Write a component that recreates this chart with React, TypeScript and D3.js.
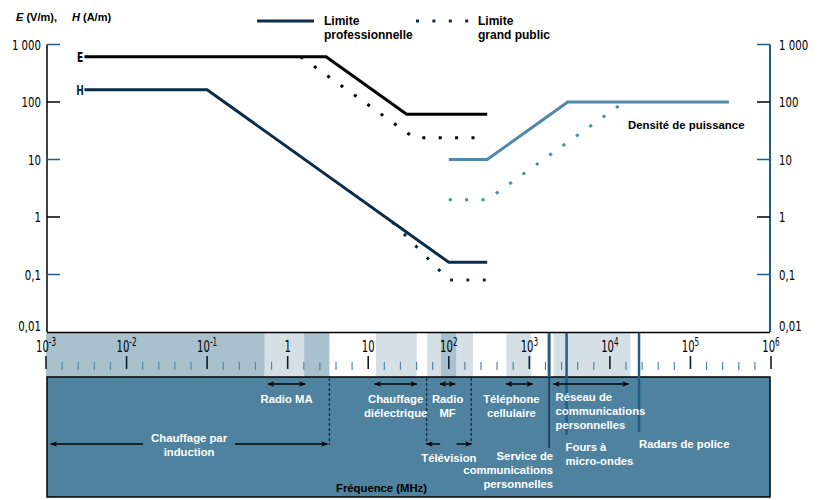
import * as d3 from "d3";

// frequencies in MHz
const eProF = [0.003, 3, 30, 300];
const eProV = [614, 614, 61.4, 61.4];
const ePubF = [1.45, 37, 300];
const ePubV = [614, 24, 24];
const hProF = [0.003, 0.1, 100, 300];
const hProV = [163, 163, 0.163, 0.163];
const hPubF = [20, 100, 300];
const hPubV = [0.815, 0.08, 0.08];
const sProF = [100, 300, 3000, 300000];
const sProV = [10, 10, 100, 100];
const sPubF = [100, 300, 15000];
const sPubV = [2, 2, 100];

const yTicks = [1000, 100, 10, 1, 0.1, 0.01];
const yTickLabels = ["1 000", "100", "10", "1", "0,1", "0,01"];
const xExps = [-3, -2, -1, 0, 1, 2, 3, 4, 5, 6];

// background bands in the frequency strip
const bandFrom = [0.001, 0.52, 1.6, 12.5, 54, 80, 125, 520, 2000];
const bandTo = [0.52, 1.6, 3.3, 40, 80, 125, 200, 1050, 18000];
const bandShade = ["mid", "light", "mid", "light", "light", "mid", "light", "light", "light"];

// single frequency markers (PCS, micro-ondes, radars)
const markF = [1760, 2900, 23000];

const bandArrows = [
  { name: "induction", from: 0.00115, to: 3.1 },
  { name: "ma", from: 0.57, to: 1.65 },
  { name: "diel", from: 12, to: 40 },
  { name: "mf", from: 78, to: 120 },
  { name: "cell", from: 515, to: 1100 },
  { name: "pcs", from: 2000, to: 17000 },
];
const tvRange = [53, 190];
const tvInner = [78, 125];
const inductionEnd = 3.3;

const FONT_B = "'Liberation Sans', Arial, Helvetica, sans-serif";
const FONT_N = "'DejaVu Sans Condensed', 'Liberation Sans Narrow', 'Arial Narrow', sans-serif";

const BLACK = "#000";
const NAVY = "#0b2d4a";
const BLUE = "#5088a6";
const DARKBLUE = "#1f5f85";
const PANEL = "#4e829f";
const LIGHT = "#d4e0e6";
const MID = "#a9c1cd";

// squeezed condensed text, like the original's narrow face
function NText(props: { x: number; y: number; anchor?: string; size?: number; sx?: number; fill?: string; bold?: boolean; children: any }) {
  const { x, y, anchor = "start", size = 14.5, sx = 0.78, fill = "#000", bold = false, children } = props;
  return (
    <text transform={`translate(${x},${y}) scale(${sx},1)`} textAnchor={anchor as any} fontFamily={FONT_N}
      fontSize={size} fill={fill} fontWeight={bold ? "bold" : "normal"}>
      {children}
    </text>
  );
}

export default function App() {
  const x = d3.scaleLog().domain([1e-3, 1e6]).range([46, 771]);
  const y = d3.scaleLog().domain([0.01, 1000]).range([332, 44.5]);
  const path = (fs: number[], vs: number[]) =>
    d3.line()(fs.map((f, i) => [x(f), y(vs[i])] as [number, number])) || "";

  const minor: number[] = [];
  for (let k = -3; k < 6; k++) for (let i = 1; i < 5; i++) minor.push(Math.pow(10, k + i / 5));

  const dots = "3 13.4";
  const arrow = (a: { from: number; to: number }, yy: number, key: string) => (
    <line key={key} x1={x(a.from)} x2={x(a.to)} y1={yy} y2={yy} stroke="#000" strokeWidth={1.4}
      markerStart="url(#ah)" markerEnd="url(#ah)" />
  );
  const ba = Object.fromEntries(bandArrows.map((b) => [b.name, b]));
  const mid = (a: { from: number; to: number }) => (x(a.from) + x(a.to)) / 2;

  const wText = (lines: string[], xx: number, y0: number, anchor: string, key: string, fill = "#fff", size = 11.3) => (
    <text key={key} x={xx} y={y0} textAnchor={anchor as any} fill={fill} fontFamily={FONT_B}
      fontWeight="bold" fontSize={size}>
      {lines.map((l, i) => (
        <tspan key={i} x={xx} dy={i === 0 ? 0 : 14}>{l}</tspan>
      ))}
    </text>
  );

  const induc = ba["induction"];
  const gapL = mid(induc) - 46;
  const gapR = mid(induc) + 46;

  return (
    <svg width={820} height={500} style={{ position: "absolute", left: 0, top: 0, background: "#fff" }}>
      <defs>
        <marker id="ah" viewBox="0 0 10 10" refX={9} refY={5} markerWidth={7} markerHeight={7}
          markerUnits="userSpaceOnUse" orient="auto-start-reverse">
          <path d="M0,1 L10,5 L0,9 L3,5 z" fill="#000" />
        </marker>
      </defs>

      {/* header */}
      <text x={16} y={21} fontFamily={FONT_B} fontWeight="bold" fontSize={11} fill="#000">
        <tspan fontStyle="italic">E</tspan> (V/m),
        <tspan x={72} fontStyle="italic">H</tspan> (A/m)
      </text>

      {/* legend */}
      <line x1={257} x2={314} y1={21} y2={21} stroke={NAVY} strokeWidth={3} />
      {wText(["Limite", "professionnelle"], 324, 25, "start", "lg1", "#000", 12)}
      <line x1={416} x2={470} y1={21} y2={21} stroke={NAVY} strokeWidth={3} strokeDasharray={dots} />
      {wText(["Limite", "grand public"], 478, 25, "start", "lg2", "#000", 12)}

      {/* y axes */}
      <line x1={47} x2={47} y1={y(1000)} y2={y(0.01)} stroke="#000" strokeWidth={1.5} />
      <line x1={770} x2={770} y1={y(1000)} y2={y(0.01)} stroke={DARKBLUE} strokeWidth={2} />
      {yTicks.map((t, i) => (
        <g key={t}>
          {i < 5 && (
            <>
              <line x1={47} x2={60} y1={y(t)} y2={y(t)} stroke={i % 2 === 0 ? DARKBLUE : "#000"} strokeWidth={1.5} />
              <line x1={757} x2={770} y1={y(t)} y2={y(t)} stroke={i % 2 === 0 ? DARKBLUE : "#000"} strokeWidth={1.5} />
            </>
          )}
          <NText x={41} y={y(t) + (i === 5 ? -1 : 5)} anchor="end">{yTickLabels[i]}</NText>
          <NText x={779} y={y(t) + (i === 5 ? -1 : 5)} anchor="start">{yTickLabels[i]}</NText>
        </g>
      ))}

      {/* E and H labels */}
      <NText x={80} y={y(614) + 5} anchor="middle" size={14} sx={0.72} bold>E</NText>
      <NText x={80} y={y(163) + 5} anchor="middle" size={14} sx={0.72} bold fill={NAVY}>H</NText>

      {/* limit curves */}
      <path d={path(sPubF, sPubV)} fill="none" stroke={BLUE} strokeWidth={3} strokeDasharray={dots} />
      <path d={path(sProF, sProV)} fill="none" stroke={BLUE} strokeWidth={3} />
      <path d={path(ePubF, ePubV)} fill="none" stroke={BLACK} strokeWidth={3} strokeDasharray={dots} />
      <path d={path(hPubF, hPubV)} fill="none" stroke={NAVY} strokeWidth={3} strokeDasharray={dots} />
      <path d={path(eProF, eProV)} fill="none" stroke={BLACK} strokeWidth={3} />
      <path d={path(hProF, hProV)} fill="none" stroke={NAVY} strokeWidth={3} />
      <text x={628} y={129} fontFamily={FONT_B} fontWeight="bold" fontSize={11.4} fill="#000">Densité de puissance</text>

      {/* frequency strip */}
      {bandFrom.map((f, i) => (
        <rect key={i} x={x(f)} y={333} width={x(bandTo[i]) - x(f)} height={44}
          fill={bandShade[i] === "mid" ? MID : LIGHT} />
      ))}
      {minor.map((m, i) => (
        <line key={i} x1={x(m)} x2={x(m)} y1={362} y2={370} stroke={BLUE} strokeWidth={1.2} />
      ))}
      {xExps.map((e) => {
        const v = Math.pow(10, e);
        return (
          <g key={e}>
            <line x1={x(v)} x2={x(v)} y1={356} y2={369} stroke="#0b1f33" strokeWidth={1.6} />
            <NText x={x(v)} y={352} anchor="middle" size={16} sx={0.7}>
              {e === 0 ? "1" : e === 1 ? "10" : (
                <>
                  10<tspan dy={-6} fontSize={11.5}>{e}</tspan>
                </>
              )}
            </NText>
          </g>
        );
      })}
      <line x1={47} x2={770} y1={332.5} y2={332.5} stroke="#000" strokeWidth={1.5} />

      {/* bottom panel */}
      <rect x={47} y={377} width={723} height={120} fill={PANEL} stroke="#000" strokeWidth={1.5} />
      <line x1={x(markF[0])} x2={x(markF[0])} y1={333} y2={377} stroke={DARKBLUE} strokeWidth={3} />
      <line x1={x(markF[0])} x2={x(markF[0])} y1={377} y2={448} stroke="#0b1f33" strokeWidth={1.2} />
      <line x1={x(markF[1])} x2={x(markF[1])} y1={333} y2={435} stroke={DARKBLUE} strokeWidth={2.5} />
      <line x1={x(markF[2])} x2={x(markF[2])} y1={333} y2={432} stroke={DARKBLUE} strokeWidth={2.5} />

      {/* dashed band limits */}
      <line x1={x(inductionEnd)} x2={x(inductionEnd)} y1={378} y2={445} stroke="#0b2d4a" strokeWidth={1.3} strokeDasharray="3 2" />
      <line x1={x(tvRange[0])} x2={x(tvRange[0])} y1={378} y2={444} stroke="#0b2d4a" strokeWidth={1.3} strokeDasharray="3 2" />
      <line x1={x(tvRange[1])} x2={x(tvRange[1])} y1={378} y2={444} stroke="#0b2d4a" strokeWidth={1.3} strokeDasharray="3 2" />

      {/* arrows */}
      <line x1={x(induc.from)} x2={gapL} y1={444} y2={444} stroke="#000" strokeWidth={1.4} markerStart="url(#ah)" />
      <line x1={gapR} x2={x(induc.to)} y1={444} y2={444} stroke="#000" strokeWidth={1.4} markerEnd="url(#ah)" />
      {arrow(ba["ma"], 384, "ma")}
      {arrow(ba["diel"], 384, "diel")}
      {arrow(ba["mf"], 384, "mf")}
      {arrow(ba["cell"], 384, "cell")}
      {arrow(ba["pcs"], 384, "pcs")}
      <line x1={x(tvInner[0])} x2={x(tvRange[0])} y1={444} y2={444} stroke="#000" strokeWidth={1.4} markerEnd="url(#ah)" />
      <line x1={x(tvInner[1])} x2={x(tvRange[1])} y1={444} y2={444} stroke="#000" strokeWidth={1.4} markerEnd="url(#ah)" />

      {/* panel labels */}
      {wText(["Chauffage par", "induction"], mid(induc), 442, "middle", "t1")}
      {wText(["Radio MA"], mid(ba["ma"]), 403, "middle", "t2")}
      {wText(["Chauffage", "diélectrique"], mid(ba["diel"]), 403, "middle", "t3")}
      {wText(["Radio", "MF"], mid(ba["mf"]), 403, "middle", "t4")}
      {wText(["Téléphone", "cellulaire"], mid(ba["cell"]) - 8, 403, "middle", "t5")}
      {wText(["Réseau de", "communications", "personnelles"], x(ba["pcs"].from) + 2, 401, "start", "t6")}
      {wText(["Télévision"], (x(tvRange[0]) + x(tvRange[1])) / 2, 462, "middle", "t7")}
      {wText(["Service de", "communications", "personnelles"], x(markF[0]) + 4, 460, "end", "t8")}
      {wText(["Fours à", "micro-ondes"], x(markF[1]) - 1, 451, "start", "t9")}
      {wText(["Radars de police"], x(markF[2]), 448, "start", "t10")}
      <text x={336} y={492} fontFamily={FONT_B} fontWeight="bold" fontSize={11.3} fill="#000">Fréquence (MHz)</text>
    </svg>
  );
}
